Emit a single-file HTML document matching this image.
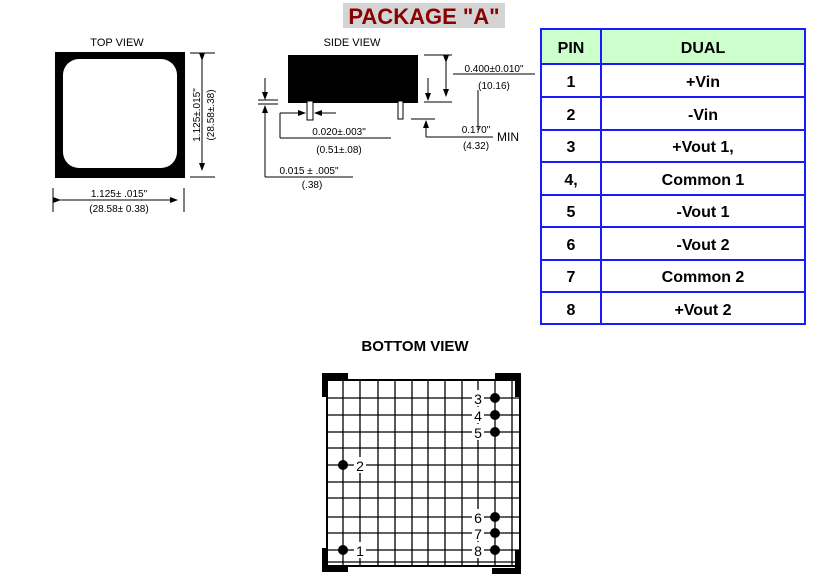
<!DOCTYPE html>
<html><head><style>
body{margin:0;background:#fff;width:821px;height:579px;overflow:hidden;font-family:"Liberation Sans",sans-serif}
</style></head><body>
<svg width="821" height="579" xmlns="http://www.w3.org/2000/svg" font-family="Liberation Sans, sans-serif">
<defs>
<marker id="a" markerWidth="8" markerHeight="8" refX="7" refY="4" orient="auto" markerUnits="userSpaceOnUse"><path d="M0,1 L8,4 L0,7z" fill="#000"/></marker>
</defs>
<!-- title -->
<rect x="343" y="3" width="162" height="25" fill="#d4d4d4"/>
<text x="424" y="24" text-anchor="middle" font-size="22" font-weight="bold" fill="#8b0000">PACKAGE "A"</text>

<!-- top view -->
<text x="117" y="46" text-anchor="middle" font-size="11">TOP VIEW</text>
<rect x="55" y="52" width="130" height="126" fill="#000"/>
<rect x="63" y="59" width="114" height="109" rx="16" fill="#fff"/>
<g stroke="#000" stroke-width="1" fill="none">
<line x1="190" y1="53" x2="215" y2="53"/><line x1="190" y1="177" x2="215" y2="177"/>
<line x1="202" y1="60" x2="202" y2="170" marker-start="url(#a)" marker-end="url(#a)"/>
<line x1="53" y1="188" x2="53" y2="212"/><line x1="184" y1="188" x2="184" y2="212"/>
<line x1="60" y1="200" x2="177" y2="200" marker-start="url(#a)" marker-end="url(#a)"/>
</g>
<text transform="translate(200,115) rotate(-90)" text-anchor="middle" font-size="10">1.125±.015"</text>
<text transform="translate(214,115) rotate(-90)" text-anchor="middle" font-size="10">(28.58±.38)</text>
<text x="119" y="197" text-anchor="middle" font-size="10">1.125± .015"</text>
<text x="119" y="212" text-anchor="middle" font-size="10">(28.58± 0.38)</text>

<!-- side view -->
<text x="352" y="46" text-anchor="middle" font-size="11">SIDE VIEW</text>
<rect x="288" y="55" width="130" height="48" fill="#000"/>
<rect x="307" y="101" width="6" height="19" fill="#fff" stroke="#000"/>
<rect x="398" y="101" width="5" height="18" fill="#fff" stroke="#000"/>
<g stroke="#000" stroke-width="1" fill="none">
<line x1="424" y1="55" x2="452" y2="55"/><line x1="424" y1="102" x2="452" y2="102"/>
<line x1="446" y1="62" x2="446" y2="96" marker-start="url(#a)" marker-end="url(#a)"/>
<line x1="428" y1="78" x2="428" y2="100" marker-end="url(#a)"/>
<line x1="453" y1="74" x2="535" y2="74"/>
<line x1="478" y1="90" x2="478" y2="130"/>
<line x1="411" y1="119" x2="435" y2="119"/>
<line x1="426" y1="137" x2="426" y2="121" marker-end="url(#a)"/>
<line x1="426" y1="137" x2="493" y2="137"/>
<line x1="265" y1="78" x2="265" y2="99" marker-end="url(#a)"/>
<line x1="258" y1="100" x2="278" y2="100"/><line x1="258" y1="104" x2="278" y2="104"/>
<line x1="265" y1="177" x2="265" y2="106" marker-end="url(#a)"/>
<line x1="265" y1="177" x2="353" y2="177"/>
<line x1="280" y1="113" x2="305" y2="113" marker-end="url(#a)"/>
<line x1="336" y1="113" x2="315" y2="113" marker-end="url(#a)"/>
<line x1="280" y1="113" x2="280" y2="138"/><line x1="280" y1="138" x2="391" y2="138"/>
</g>
<text x="494" y="72" text-anchor="middle" font-size="10">0.400±0.010"</text>
<text x="494" y="89" text-anchor="middle" font-size="10">(10.16)</text>
<text x="476" y="133" text-anchor="middle" font-size="10">0.170"</text>
<text x="476" y="149" text-anchor="middle" font-size="10">(4.32)</text>
<text x="497" y="141" font-size="12">MIN</text>
<text x="339" y="135" text-anchor="middle" font-size="10">0.020±.003"</text>
<text x="339" y="153" text-anchor="middle" font-size="10">(0.51±.08)</text>
<text x="309" y="174" text-anchor="middle" font-size="10">0.015 ± .005"</text>
<text x="312" y="188" text-anchor="middle" font-size="10">(.38)</text>

<!-- table -->
<rect x="541" y="29" width="264" height="35" fill="#ccffcc"/>
<g stroke="#1a1aff" stroke-width="2" fill="none">
<rect x="541" y="29" width="264" height="295"/>
<line x1="601" y1="29" x2="601" y2="324"/>
<line x1="541" y1="64" x2="805" y2="64"/>
<line x1="541" y1="97" x2="805" y2="97"/>
<line x1="541" y1="130" x2="805" y2="130"/>
<line x1="541" y1="162" x2="805" y2="162"/>
<line x1="541" y1="195" x2="805" y2="195"/>
<line x1="541" y1="227" x2="805" y2="227"/>
<line x1="541" y1="260" x2="805" y2="260"/>
<line x1="541" y1="292" x2="805" y2="292"/>
</g>
<g font-size="16" font-weight="bold" text-anchor="middle">
<text x="571" y="53">PIN</text><text x="703" y="53">DUAL</text>
<text x="571" y="87">1</text><text x="703" y="87">+Vin</text>
<text x="571" y="120">2</text><text x="703" y="120">-Vin</text>
<text x="571" y="152">3</text><text x="703" y="152">+Vout 1,</text>
<text x="571" y="185">4,</text><text x="703" y="185">Common 1</text>
<text x="571" y="217">5</text><text x="703" y="217">-Vout 1</text>
<text x="571" y="250">6</text><text x="703" y="250">-Vout 2</text>
<text x="571" y="282">7</text><text x="703" y="282">Common 2</text>
<text x="571" y="315">8</text><text x="703" y="315">+Vout 2</text>
</g>

<!-- bottom view -->
<text x="415" y="351" text-anchor="middle" font-size="15" font-weight="bold">BOTTOM VIEW</text>
<g stroke="#000" stroke-width="1.3" fill="none">
<rect x="327" y="380" width="193" height="186" stroke-width="2"/>
<path d="M343 380V566M360 380V566M378 380V566M395 380V566M412 380V566M428 380V566M445 380V566M462 380V566M478 380V566M495 380V566M512 380V566"/>
<path d="M327 398H520M327 415H520M327 432H520M327 448H520M327 465H520M327 482H520M327 498H520M327 517H520M327 533H520M327 550H520M327 562H520"/>
</g>
<g fill="#000">
<path d="M322 373H348V379H328V397H322Z"/>
<path d="M521 373H495V379H515V397H521Z"/>
<path d="M322 572H348V566H328V548H322Z"/>
<path d="M521 574H492V568H515V550H521Z"/>
<circle cx="343" cy="465" r="5"/><circle cx="343" cy="550" r="5"/>
<circle cx="495" cy="398" r="5"/><circle cx="495" cy="415" r="5"/><circle cx="495" cy="432" r="5"/>
<circle cx="495" cy="517" r="5"/><circle cx="495" cy="533" r="5"/><circle cx="495" cy="550" r="5"/>
</g>
<g font-size="14" text-anchor="middle">
<rect x="354" y="457" width="12" height="16" fill="#fff"/><text x="360" y="471">2</text>
<rect x="354" y="542" width="12" height="16" fill="#fff"/><text x="360" y="556">1</text>
<rect x="472" y="390" width="12" height="16" fill="#fff"/><text x="478" y="404">3</text>
<rect x="472" y="407" width="12" height="16" fill="#fff"/><text x="478" y="421">4</text>
<rect x="472" y="424" width="12" height="16" fill="#fff"/><text x="478" y="438">5</text>
<rect x="472" y="509" width="12" height="16" fill="#fff"/><text x="478" y="523">6</text>
<rect x="472" y="525" width="12" height="16" fill="#fff"/><text x="478" y="539">7</text>
<rect x="472" y="542" width="12" height="16" fill="#fff"/><text x="478" y="556">8</text>
</g>
</svg>
</body></html>
